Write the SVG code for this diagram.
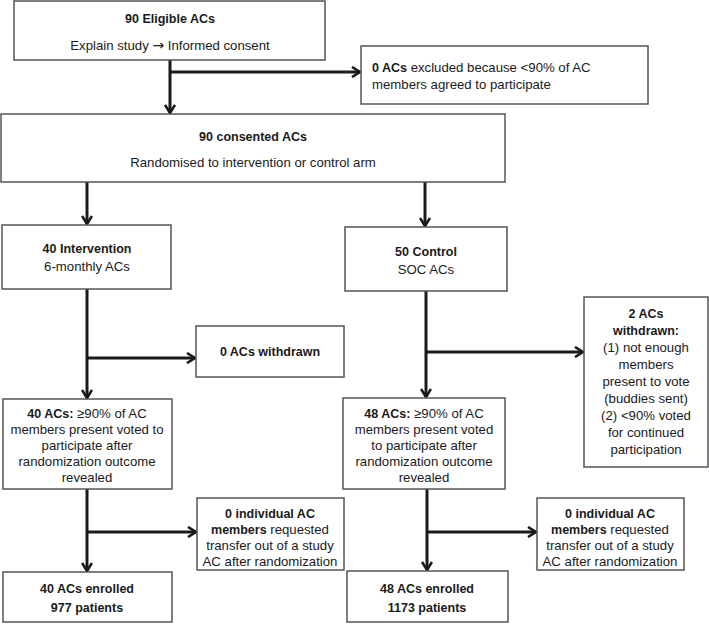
<svg xmlns="http://www.w3.org/2000/svg" width="709" height="624" viewBox="0 0 709 624">
<style>
.box{fill:#fff;stroke:#555;stroke-width:1.5}
text{font-family:"Liberation Sans",Arial,sans-serif;font-size:13.2px;fill:#1a1a1a}
.c{text-anchor:middle}
.b{font-weight:bold;font-size:12.5px}
.ar{font-family:"DejaVu Sans",sans-serif;font-size:14px}
.con{fill:none;stroke:#1a1a1a;stroke-width:3}
</style>
<defs>
<marker id="arr" viewBox="0 0 12 12" refX="10" refY="6" markerWidth="12" markerHeight="12" markerUnits="userSpaceOnUse" orient="auto">
<path d="M2,1 L10,6 L2,11" fill="none" stroke="#1a1a1a" stroke-width="2.6"/>
</marker>
</defs>
<rect width="709" height="624" fill="#fff"/>
<g id="connectors">
<line class="con" x1="170" y1="60" x2="170" y2="113" marker-end="url(#arr)"/>
<line class="con" x1="170" y1="72" x2="360" y2="72" marker-end="url(#arr)"/>
<line class="con" x1="87" y1="182" x2="87" y2="224" marker-end="url(#arr)"/>
<line class="con" x1="425" y1="182" x2="425" y2="226" marker-end="url(#arr)"/>
<line class="con" x1="87" y1="289" x2="87" y2="398" marker-end="url(#arr)"/>
<line class="con" x1="87" y1="358" x2="195" y2="358" marker-end="url(#arr)"/>
<line class="con" x1="426" y1="291" x2="426" y2="397" marker-end="url(#arr)"/>
<line class="con" x1="426" y1="352" x2="583" y2="352" marker-end="url(#arr)"/>
<line class="con" x1="87" y1="489" x2="87" y2="571" marker-end="url(#arr)"/>
<line class="con" x1="87" y1="532" x2="196" y2="532" marker-end="url(#arr)"/>
<line class="con" x1="427" y1="489" x2="427" y2="570" marker-end="url(#arr)"/>
<line class="con" x1="427" y1="532" x2="536" y2="532" marker-end="url(#arr)"/>
</g>
<g id="eligible">
<rect class="box" x="14" y="1" width="311" height="59"/>
<text class="c b" x="170" y="23">90 Eligible ACs</text>
<text class="c" x="170" y="50">Explain study <tspan class="ar">→</tspan> Informed consent</text>
</g>
<g id="excluded">
<rect class="box" x="361" y="46" width="287" height="58"/>
<text x="372" y="72"><tspan class="b">0 ACs</tspan> excluded because &lt;90% of AC</text>
<text x="372" y="89">members agreed to participate</text>
</g>
<g id="consented">
<rect class="box" x="1" y="114" width="504" height="68"/>
<text class="c b" x="253" y="141">90 consented ACs</text>
<text class="c" x="253" y="167">Randomised to intervention or control arm</text>
</g>
<g id="intervention">
<rect class="box" x="2" y="225" width="169" height="64"/>
<text class="c b" x="87" y="253">40 Intervention</text>
<text class="c" x="87" y="271">6-monthly ACs</text>
</g>
<g id="control">
<rect class="box" x="345" y="227" width="162" height="64"/>
<text class="c b" x="426" y="256">50 Control</text>
<text class="c" x="426" y="274">SOC ACs</text>
</g>
<g id="withdrawn-int">
<rect class="box" x="196" y="326" width="148" height="51"/>
<text class="c b" x="270" y="356">0 ACs withdrawn</text>
</g>
<g id="withdrawn-ctl">
<rect class="box" x="584" y="297" width="124" height="170"/>
<text class="c b" x="646" y="318">2 ACs</text>
<text class="c b" x="646" y="335">withdrawn:</text>
<text class="c" x="646" y="352">(1) not enough</text>
<text class="c" x="646" y="369">members</text>
<text class="c" x="646" y="386">present to vote</text>
<text class="c" x="646" y="403">(buddies sent)</text>
<text class="c" x="646" y="420">(2) &lt;90% voted</text>
<text class="c" x="646" y="437">for continued</text>
<text class="c" x="646" y="454">participation</text>
</g>
<g id="voted-int">
<rect class="box" x="3" y="399" width="169" height="90"/>
<text class="c" x="87" y="418"><tspan class="b">40 ACs:</tspan> ≥90% of AC</text>
<text class="c" x="87" y="434">members present voted to</text>
<text class="c" x="87" y="450">participate after</text>
<text class="c" x="87" y="466">randomization outcome</text>
<text class="c" x="87" y="482">revealed</text>
</g>
<g id="voted-ctl">
<rect class="box" x="343" y="398" width="162" height="91"/>
<text class="c" x="424" y="418"><tspan class="b">48 ACs:</tspan> ≥90% of AC</text>
<text class="c" x="424" y="434">members present voted</text>
<text class="c" x="424" y="450">to participate after</text>
<text class="c" x="424" y="466">randomization outcome</text>
<text class="c" x="424" y="482">revealed</text>
</g>
<g id="transfer-int">
<rect class="box" x="197" y="498" width="147" height="72"/>
<text class="c b" x="270" y="518">0 individual AC</text>
<text class="c" x="270" y="534"><tspan class="b">members</tspan> requested</text>
<text class="c" x="270" y="550">transfer out of a study</text>
<text class="c" x="270" y="566">AC after randomization</text>
</g>
<g id="transfer-ctl">
<rect class="box" x="537" y="498" width="147" height="72"/>
<text class="c b" x="610" y="518">0 individual AC</text>
<text class="c" x="610" y="534"><tspan class="b">members</tspan> requested</text>
<text class="c" x="610" y="550">transfer out of a study</text>
<text class="c" x="610" y="566">AC after randomization</text>
</g>
<g id="enrolled-int">
<rect class="box" x="3" y="572" width="169" height="50"/>
<text class="c b" x="87" y="593">40 ACs enrolled</text>
<text class="c b" x="87" y="612">977 patients</text>
</g>
<g id="enrolled-ctl">
<rect class="box" x="347" y="571" width="161" height="51"/>
<text class="c b" x="427" y="593">48 ACs enrolled</text>
<text class="c b" x="427" y="612">1173 patients</text>
</g>
</svg>
